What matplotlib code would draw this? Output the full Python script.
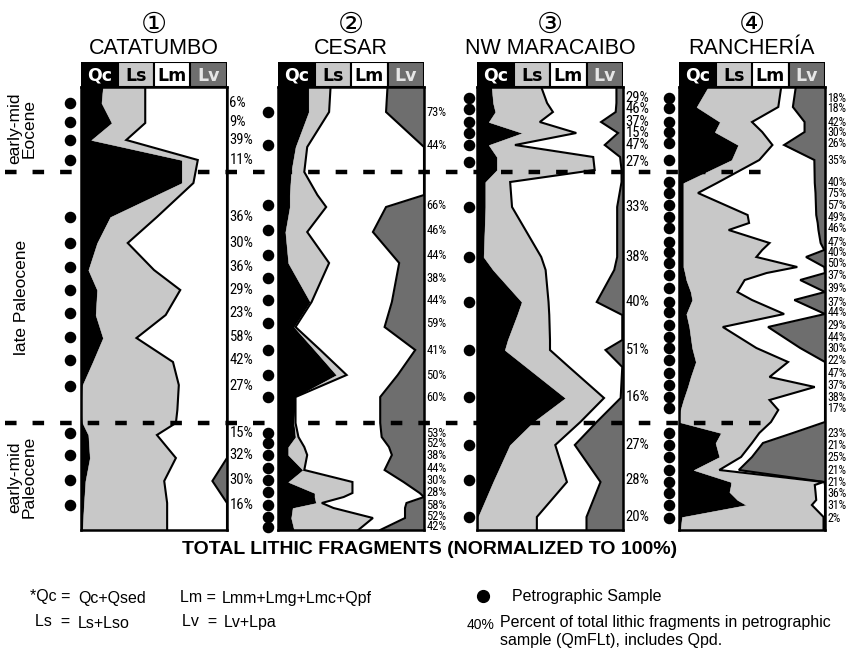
import matplotlib
matplotlib.use('Agg')
import matplotlib.pyplot as plt
from matplotlib.transforms import blended_transform_factory
from matplotlib.lines import Line2D
from matplotlib.patches import Rectangle
from matplotlib import font_manager
import numpy as np

plt.rcParams['font.family'] = ['Liberation Sans', 'DejaVu Sans', 'Noto Sans CJK JP']

# look for an installed condensed sans family for the crowded percentage labels
_names = sorted({f.name for f in font_manager.fontManager.ttflist})
NARROW = None
for cand in ['Liberation Sans Narrow', 'DejaVu Sans Condensed', 'Roboto Condensed',
             'Open Sans Condensed', 'Noto Sans Condensed']:
    if cand in _names:
        NARROW = cand
        break

# ---------------- data ----------------
components = ['Qc', 'Ls', 'Lm', 'Lv']
comp_colors = ['#000000', '#c8c8c8', '#ffffff', '#6e6e6e']
header_text_colors = ['white', 'black', 'black', '#e6e6e6']
panel_numbers = ['①', '②', '③', '④']
basins = ['CATATUMBO', 'CESAR', 'NW MARACAIBO', 'RANCHERÍA']
eras = ['early-mid\nEocene', 'late Paleocene', 'early-mid\nPaleocene']
era_bounds = [85, 336]          # stratigraphic position (0 = top of section)
era_centers = [41, 210, 390]
depth_max = 443

# CATATUMBO
cat_depth = [0, 16, 36, 53, 73, 96, 130, 156, 183, 203, 228, 251, 275, 298, 323, 336, 348, 371, 394, 416, 443]
cat_qc = [15, 14, 21, 7, 69, 69, 20, 11, 5, 11, 10, 15, 8, 1, 0, 1, 5, 6, 3, 2, 1]
cat_ls = [29, 30, 23, 24, 11, 8, 32, 21, 45, 57, 48, 23, 55, 66, 66, 64, 47, 59, 54, 57, 58]
cat_lm = [56, 56, 56, 69, 20, 23, 48, 68, 50, 32, 42, 62, 37, 33, 34, 35, 48, 35, 33, 41, 41]
cat_lv = [0, 0, 0, 0, 0, 0, 0, 0, 0, 0, 0, 0, 0, 0, 0, 0, 0, 0, 10, 0, 0]
cat_samples = [16, 35, 53, 73, 130, 156, 180, 203, 226, 250, 273, 299, 346, 368, 393, 418]
cat_pct = [6, 9, 39, 11, 36, 30, 36, 29, 23, 58, 42, 27, 15, 32, 30, 16]

# CESAR
ces_depth = [0, 25, 60, 85, 108, 120, 145, 176, 215, 240, 263, 288, 310, 336, 350, 360, 368, 383, 395, 406, 410, 416, 421, 431, 443]
ces_qc = [21, 21, 12, 9, 8, 8, 5, 7, 22, 11, 25, 40, 12, 11, 12, 7, 7, 17, 7, 25, 25, 26, 10, 9, 11]
ces_ls = [15, 14, 8, 9, 19, 25, 15, 28, 1, 1, 4, 7, 0, 1, 2, 11, 13, 1, 44, 26, 20, 4, 28, 56, 44]
ces_lm = [39, 39, 80, 82, 73, 41, 45, 48, 55, 61, 65, 35, 58, 58, 57, 58, 58, 55, 35, 46, 55, 58, 49, 22, 15]
ces_lv = [25, 26, 0, 0, 0, 26, 35, 17, 22, 27, 6, 18, 30, 30, 29, 24, 22, 27, 14, 3, 0, 12, 13, 13, 30]
ces_samples = [25, 58, 118, 143, 168, 191, 213, 236, 263, 288, 310, 346, 356, 368, 381, 393, 405, 418, 430, 440]
ces_pct = [73, 44, 66, 46, 44, 38, 44, 59, 41, 50, 60, 53, 52, 38, 44, 30, 28, 58, 52, 42]

# NW MARACAIBO
mar_depth = [0, 16, 25, 35, 46, 58, 70, 83, 95, 120, 170, 183, 215, 228, 253, 263, 280, 311, 335, 358, 395, 430, 443]
mar_qc = [10, 11, 12.5, 8, 31, 8, 13.6, 13.6, 5.7, 5.7, 4.5, 11, 30.6, 27.5, 21, 19, 33.7, 60.5, 38.6, 22.5, 11, 0.7, 0.7]
mar_ls = [34, 37, 39.5, 35, 37, 18, 66, 67, 17, 18.3, 39.5, 36, 18.4, 22, 29, 31, 29.3, 26.5, 32.2, 31.1, 50.6, 40.3, 40.3]
mar_lm = [51.5, 47.5, 43, 42, 28.6, 61.5, 18.4, 18.4, 76.3, 72, 52, 47, 33, 50, 49.5, 38, 36.5, 11.4, 11.2, 13.4, 23, 34, 34]
mar_lv = [4.5, 4.5, 5, 15, 3.4, 12.5, 2, 1, 1, 4, 4, 6, 18, 0.5, 0.5, 12, 0.5, 1.6, 18, 33, 15.4, 25, 25]
mar_samples = [11, 22, 35, 46, 58, 75, 120, 170, 215, 263, 310, 358, 393, 430]
mar_pct = [29, 46, 37, 15, 47, 27, 33, 38, 40, 51, 16, 27, 28, 20]

# RANCHERIA
ran_depth = [0, 20, 35, 45, 58, 73, 96, 106, 128, 136, 143, 156, 163, 170, 180, 186, 193, 205, 213, 227,
             240, 261, 275, 290, 300, 313, 323, 335, 346, 356, 370, 383, 395, 398, 405, 413, 418, 430, 443]
ran_qc = [20, 12, 28, 24.5, 40.5, 36, 3, 3, 3, 3, 3, 3, 3, 3, 3, 4, 5, 8, 9, 5,
          7, 9, 11.5, 8, 6, 3, 1, 0, 28.7, 25, 27.6, 10, 35.6, 35.5, 34.5, 40, 46, 2, 1]
ran_ls = [50, 56, 22, 32.5, 23.5, 19, 23, 10, 44, 45, 31, 59, 54, 50, 78, 56, 40, 32, 41, 67,
          23, 44, 63.2, 54, 87, 59, 67, 63, 26.3, 25, 14.9, 17.6, 63.4, 57.5, 59, 54, 45, 97, 98]
ran_lm = [10, 10, 36, 29, 8, 37.7, 67, 80.5, 47, 47, 61.5, 35, 42.5, 34, 18.5, 40, 38, 60, 29, 28,
          31, 30, 25.3, 38, 7, 38, 32, 37, 23, 7.5, 7.5, 13.4, 0.5, 7, 6.5, 6, 9, 1, 1]
ran_lv = [20, 22, 14, 14, 28, 7.3, 7, 6.5, 6, 5, 4.5, 3, 0.5, 13, 0.5, 0, 17, 0, 21, 0,
          39, 17, 0, 0, 0, 0, 0, 0, 22, 42.5, 50, 59, 0.5, 0, 0, 0, 0, 0, 0]
ran_samples = [11, 21, 35, 45, 56, 73, 95, 106, 118, 130, 141, 155, 165, 176, 188, 201, 215, 225, 238, 250,
               261, 273, 286, 298, 310, 321, 346, 358, 370, 383, 395, 406, 418, 431]
ran_pct = [18, 18, 42, 30, 26, 35, 40, 75, 57, 49, 46, 47, 40, 50, 37, 39, 37, 44, 29, 44,
           30, 22, 47, 37, 38, 17, 23, 21, 25, 21, 21, 36, 31, 2]

panels = [
    (cat_depth, [cat_qc, cat_ls, cat_lm, cat_lv], cat_samples, cat_pct),
    (ces_depth, [ces_qc, ces_ls, ces_lm, ces_lv], ces_samples, ces_pct),
    (mar_depth, [mar_qc, mar_ls, mar_lm, mar_lv], mar_samples, mar_pct),
    (ran_depth, [ran_qc, ran_ls, ran_lm, ran_lv], ran_samples, ran_pct),
]

# ---------------- layout (pixels) ----------------
W, H = 850, 655
fig = plt.figure(figsize=(W / 100, H / 100), dpi=100)

def fx(x):
    return x / W

def fy(y):
    return 1 - y / H

panel_left = [81, 278, 477, 679]
panel_w = 146
hdr_top, data_top, data_bot = 62, 87, 530
dot_offset = [11, 10, 8, 10]
if NARROW:
    pct_family = [NARROW, 'Liberation Sans']
    pct_size = [10.5, 9, 10.5, 8.6]
else:
    pct_family = ['Liberation Sans']
    pct_size = [10, 8.5, 10, 8]

axes = []
for i, (depth, parts, samples, pct) in enumerate(panels):
    L = panel_left[i]
    ax = fig.add_axes([fx(L), fy(data_bot), panel_w / W, (data_bot - data_top) / H])
    axes.append(ax)
    depth = np.asarray(depth, float)
    cum = np.cumsum(np.vstack([np.asarray(p, float) for p in parts]), axis=0)
    lower = np.zeros_like(depth)
    for k in range(4):
        ax.fill_betweenx(depth, lower, cum[k], facecolor=comp_colors[k], edgecolor=comp_colors[k],
                         linewidth=0.3, zorder=1)
        lower = cum[k]
    for k in (1, 2):
        ax.plot(cum[k], depth, color='black', lw=1.5, zorder=3, solid_joinstyle='miter')
    ax.set_xlim(0, 100)
    ax.set_ylim(depth_max, 0)
    ax.set_xticks([])
    ax.set_yticks([])
    for s in ax.spines.values():
        s.set_linewidth(1.8)
        s.set_color('black')
        s.set_zorder(5)

    # sample dots and percentages
    tr = blended_transform_factory(ax.transAxes, ax.transData)
    ax.plot([-dot_offset[i] / panel_w] * len(samples), samples, 'o', color='black',
            markersize=7.3, transform=tr, clip_on=False)
    for d, p in zip(samples, pct):
        ax.text(1 + 2.5 / panel_w, d, f'{p}%', transform=tr, ha='left', va='center',
                fontsize=pct_size[i], family=pct_family, clip_on=False)

    # header row
    hax = fig.add_axes([fx(L), fy(data_top), panel_w / W, (data_top - hdr_top) / H])
    hax.set_xlim(0, 4)
    hax.set_ylim(0, 1)
    hax.axis('off')
    for k, name in enumerate(components):
        hax.add_patch(Rectangle((k, 0), 1, 1, facecolor=comp_colors[k], edgecolor='black', lw=1.5))
        hax.text(k + 0.5, 0.45, name, ha='center', va='center', fontsize=12.5,
                 fontweight='bold', color=header_text_colors[k], family=['DejaVu Sans'])

    # titles
    cx = L + panel_w / 2
    fig.text(fx(cx), fy(25), panel_numbers[i], ha='center', va='center', fontsize=21,
             family=['DejaVu Sans', 'Noto Sans CJK JP'])
    fig.text(fx(cx), fy(48), basins[i], ha='center', va='center', fontsize=15.5)

# era boundaries (dashed), drawn across the figure
ytr = blended_transform_factory(fig.transFigure, axes[0].transData)
for b in era_bounds:
    ln = Line2D([fx(5), fx(772)], [b, b], transform=ytr, color='black', lw=3.2,
                dashes=(2.6, 3.6), zorder=10)
    fig.add_artist(ln)

# era labels
for name, c in zip(eras, era_centers):
    fig.text(fx(22), c, name, transform=ytr, rotation=90, ha='center', va='center',
             fontsize=12.5, linespacing=1.0)

# x-axis caption
fig.text(fx(430), fy(550), 'TOTAL LITHIC FRAGMENTS (NORMALIZED TO 100%)', ha='center',
         va='center', fontsize=14, fontweight='bold')

# legend
lf = 11.5
fig.text(fx(30), fy(597), '*Qc =', fontsize=lf, va='center')
fig.text(fx(78), fy(598), 'Qc+Qsed', fontsize=lf, va='center')
fig.text(fx(35), fy(622), 'Ls  =', fontsize=lf, va='center')
fig.text(fx(78), fy(623), 'Ls+Lso', fontsize=lf, va='center')
fig.text(fx(180), fy(597), 'Lm =', fontsize=lf, va='center')
fig.text(fx(222), fy(598), 'Lmm+Lmg+Lmc+Qpf', fontsize=lf, va='center')
fig.text(fx(182), fy(622), 'Lv  =', fontsize=lf, va='center')
fig.text(fx(224), fy(623), 'Lv+Lpa', fontsize=lf, va='center')
fig.add_artist(Line2D([fx(483)], [fy(596)], marker='o', color='black', markersize=8.5,
                      transform=fig.transFigure))
fig.text(fx(512), fy(597), 'Petrographic Sample', fontsize=lf, va='center')
fig.text(fx(467), fy(625), '40%', fontsize=10, va='center')
fig.text(fx(500), fy(622), 'Percent of total lithic fragments in petrographic', fontsize=lf, va='center')
fig.text(fx(500), fy(640), 'sample (QmFLt), includes Qpd.', fontsize=lf, va='center')

fig.savefig('out.png', dpi=100, facecolor='white')
